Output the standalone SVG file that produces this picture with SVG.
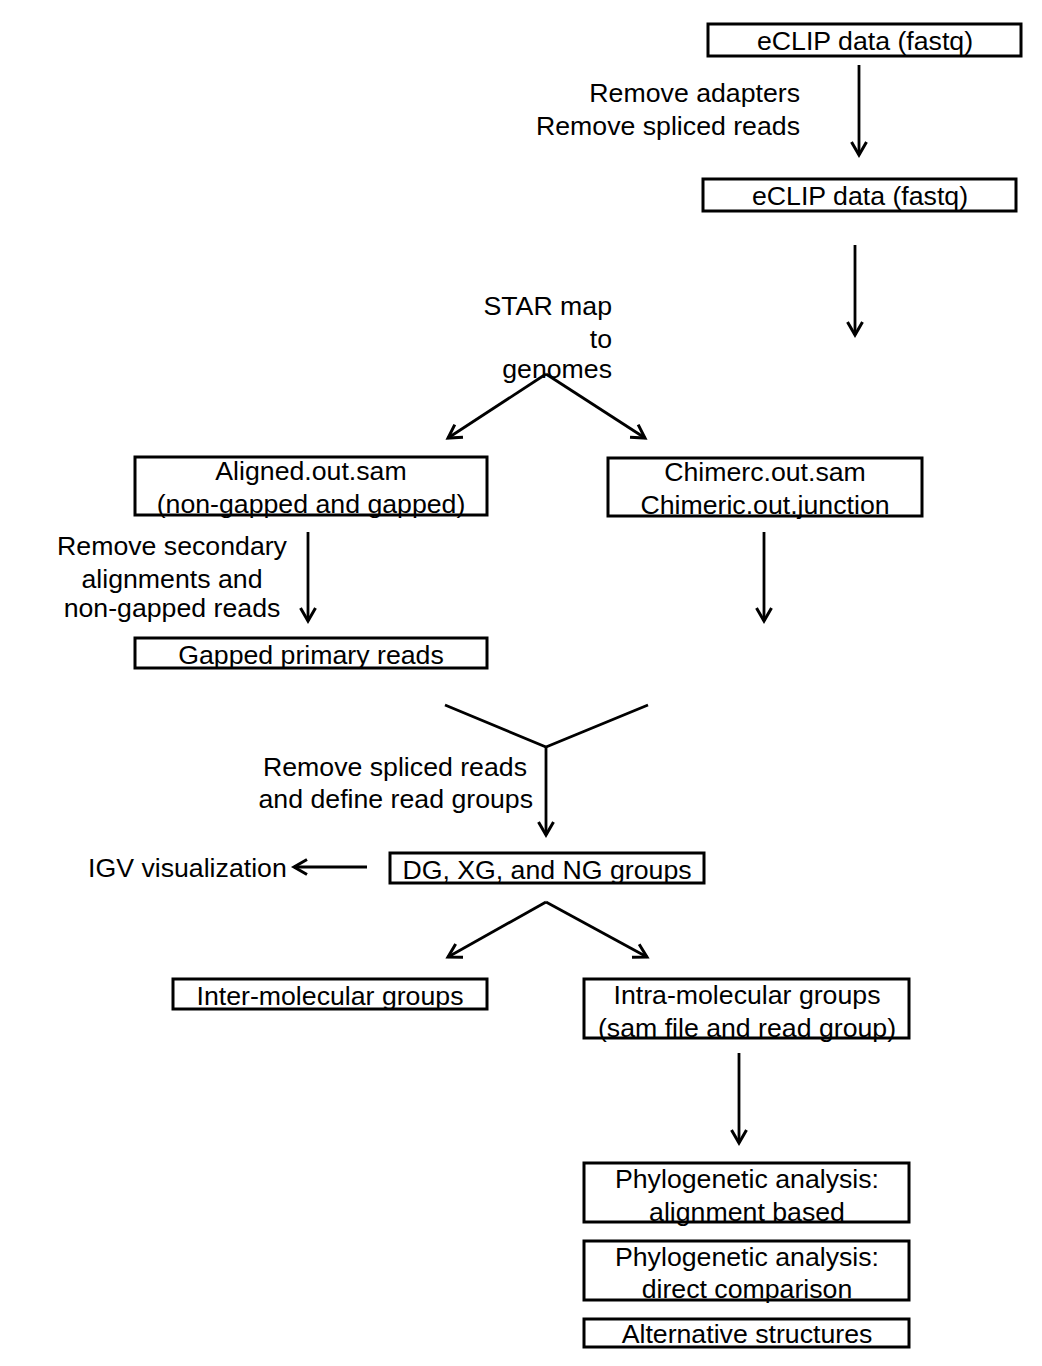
<svg xmlns="http://www.w3.org/2000/svg" width="1042" height="1366" viewBox="0 0 1042 1366">
<style>
text{font-family:"Liberation Sans",Arial,sans-serif;font-size:26.7px;fill:#000}
.c{text-anchor:middle}
.r{text-anchor:end}
.box{fill:none;stroke:#000;stroke-width:3}
.ln{fill:none;stroke:#000;stroke-width:2.8}
.ar{fill:none;stroke:#000;stroke-width:2.8;marker-end:url(#ah)}
</style>
<defs>
<marker id="ah" markerUnits="userSpaceOnUse" markerWidth="30" markerHeight="30" refX="0" refY="0" viewBox="-15 -15 30 30" orient="auto" overflow="visible">
<path d="M-13,-7.5 L0,0 L-13,7.5" fill="none" stroke="#000" stroke-width="3"/>
</marker>
</defs>
<rect width="1042" height="1366" fill="#fff"/>
<g id="connectors">
<line class="ar" x1="859" y1="65" x2="859" y2="155"/>
<line class="ar" x1="855" y1="245" x2="855" y2="335"/>
<line class="ar" x1="546" y1="374" x2="448" y2="438"/>
<line class="ar" x1="546" y1="374" x2="645" y2="438"/>
<line class="ar" x1="308" y1="532" x2="308" y2="621"/>
<line class="ar" x1="764" y1="532" x2="764" y2="621"/>
<polyline class="ln" points="445,705 546,747 648,705"/>
<line class="ar" x1="546" y1="747" x2="546" y2="835"/>
<line class="ar" x1="367" y1="867" x2="294" y2="867"/>
<line class="ar" x1="546" y1="902" x2="448" y2="957"/>
<line class="ar" x1="546" y1="902" x2="647" y2="957"/>
<line class="ar" x1="739" y1="1053" x2="739" y2="1143"/>
</g>
<g id="labels">
<text class="r" x="800" y="102">Remove adapters</text>
<text class="r" x="800" y="135">Remove spliced reads</text>
<text class="r" x="612" y="315">STAR map</text>
<text class="r" x="612" y="348">to</text>
<text class="r" x="612" y="378">genomes</text>
<text class="c" x="172" y="555">Remove secondary</text>
<text class="c" x="172" y="588">alignments and</text>
<text class="c" x="172" y="617">non-gapped reads</text>
<text class="r" x="527" y="776">Remove spliced reads</text>
<text class="r" x="533" y="808">and define read groups</text>
<text x="88" y="877">IGV visualization</text>
</g>
<g id="n1"><rect class="box" x="708" y="24" width="313" height="32"/><text class="c" x="865" y="50">eCLIP data (fastq)</text></g>
<g id="n2"><rect class="box" x="703" y="179" width="313" height="32"/><text class="c" x="860" y="205">eCLIP data (fastq)</text></g>
<g id="n3"><rect class="box" x="135" y="457" width="352" height="58"/><text class="c" x="311" y="480">Aligned.out.sam</text><text class="c" x="311" y="513">(non-gapped and gapped)</text></g>
<g id="n4"><rect class="box" x="608" y="458" width="314" height="58"/><text class="c" x="765" y="481">Chimerc.out.sam</text><text class="c" x="765" y="514">Chimeric.out.junction</text></g>
<g id="n5"><rect class="box" x="135" y="638" width="352" height="30"/><text class="c" x="311" y="664">Gapped primary reads</text></g>
<g id="n6"><rect class="box" x="390" y="853" width="314" height="30"/><text class="c" x="547" y="879">DG, XG, and NG groups</text></g>
<g id="n7"><rect class="box" x="173" y="979" width="314" height="30"/><text class="c" x="330" y="1005">Inter-molecular groups</text></g>
<g id="n8"><rect class="box" x="584" y="979" width="325" height="59"/><text class="c" x="747" y="1004">Intra-molecular groups</text><text class="c" x="747" y="1037">(sam file and read group)</text></g>
<g id="n9"><rect class="box" x="584" y="1163" width="325" height="59"/><text class="c" x="747" y="1188">Phylogenetic analysis:</text><text class="c" x="747" y="1221">alignment based</text></g>
<g id="n10"><rect class="box" x="584" y="1241" width="325" height="59"/><text class="c" x="747" y="1266">Phylogenetic analysis:</text><text class="c" x="747" y="1298">direct comparison</text></g>
<g id="n11"><rect class="box" x="584" y="1319" width="325" height="28"/><text class="c" x="747" y="1343">Alternative structures</text></g>
</svg>
